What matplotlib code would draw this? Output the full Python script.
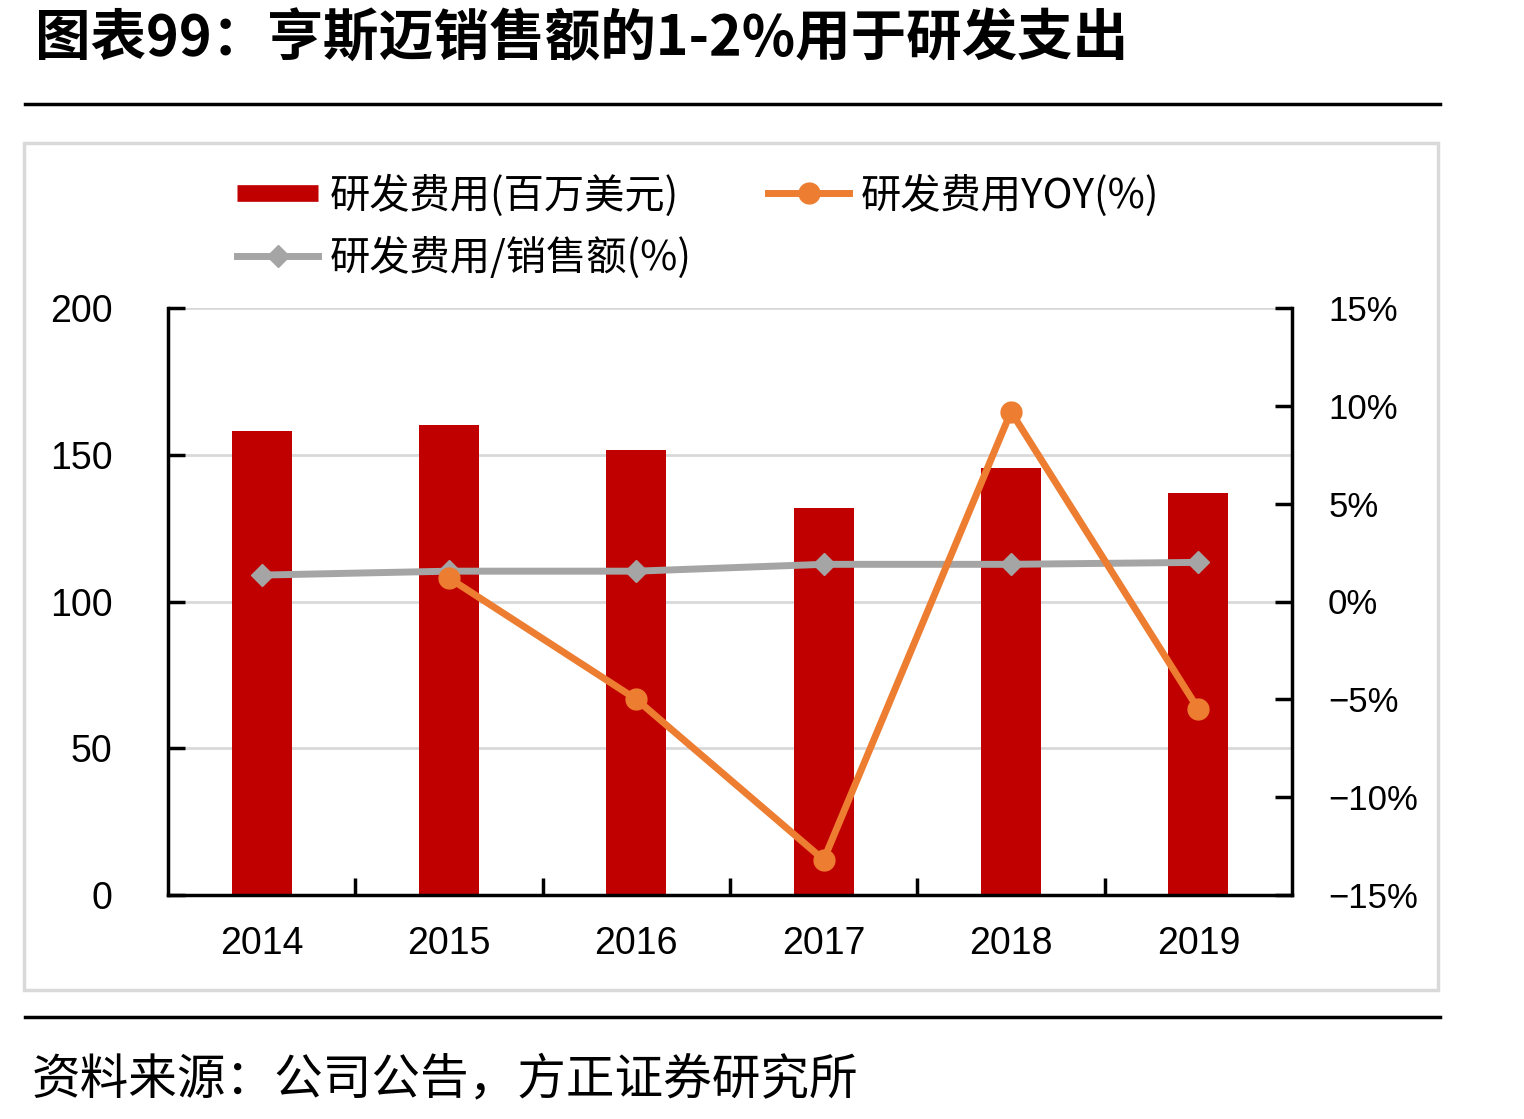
import matplotlib.pyplot as plt
from matplotlib.patches import Rectangle
from matplotlib.lines import Line2D
from matplotlib.ticker import FuncFormatter, FixedLocator

plt.rcParams['font.family'] = ['Liberation Sans', 'Noto Sans CJK SC', 'DejaVu Sans']
plt.rcParams['axes.unicode_minus'] = True

years = ['2014', '2015', '2016', '2017', '2018', '2019']
rd_spend = [158.1, 160.1, 151.6, 131.9, 145.5, 137.0]   # 百万美元
rd_yoy = [None, 1.2, -5.0, -13.2, 9.7, -5.5]            # %
rd_ratio = [1.35, 1.55, 1.55, 1.9, 1.9, 2.0]            # %

red = '#C00000'
orange = '#ED7D31'
grey = '#A5A5A5'
cjk = ['Noto Sans CJK SC', 'DejaVu Sans']

fig = plt.figure(figsize=(15.24, 11.19), dpi=100)

# title and separator lines
fig.text(35 / 1524, 1 - 40 / 1119, '图表99：亨斯迈销售额的1-2%用于研发支出', family=cjk,
         fontsize=40, fontweight='bold', va='center', ha='left')
fig.add_artist(Line2D([25 / 1524, 1440 / 1524], [1 - 104 / 1119] * 2, color='black', lw=2.5))
fig.add_artist(Line2D([25 / 1524, 1440 / 1524], [1 - 1017 / 1119] * 2, color='black', lw=2.5))
fig.add_artist(Rectangle((24 / 1524, 1 - 990 / 1119), 1414 / 1524, 847 / 1119,
                         fill=False, edgecolor='#D9D9D9', lw=2.5))
fig.text(32 / 1524, 1 - 1080 / 1119, '资料来源：公司公告，方正证券研究所', family=cjk,
         fontsize=35, va='center', ha='left')

ax = fig.add_axes([168 / 1524, 1 - 895 / 1119, 1124 / 1524, 587 / 1119])
x = list(range(len(years)))
ax.bar(x, rd_spend, width=0.32, color=red, zorder=2)
ax.set_xlim(-0.5, 5.5)
ax.set_ylim(0, 200)
ax.set_yticks([0, 50, 100, 150, 200])
ax.grid(axis='y', color='#D9D9D9', lw=2, zorder=0)
ax.set_xticks(x)
ax.set_xticklabels(years)
ax.xaxis.set_minor_locator(FixedLocator([i + 0.5 for i in range(5)]))
ax.tick_params(axis='x', which='major', length=0, pad=22, labelsize=27)
ax.tick_params(axis='x', which='minor', direction='in', length=12, width=2.5)
ax.tick_params(axis='y', direction='in', length=12, width=2.5, labelsize=27, pad=40)
for s in ['left', 'bottom']:
    ax.spines[s].set_linewidth(2.5)
for s in ['top', 'right']:
    ax.spines[s].set_visible(False)

ax2 = ax.twinx()
ax2.plot(x, rd_ratio, color=grey, lw=5, marker='D', markersize=11, zorder=3)
yx = [i for i, v in zip(x, rd_yoy) if v is not None]
yv = [v for v in rd_yoy if v is not None]
ax2.plot(yx, yv, color=orange, lw=5, marker='o', markersize=15, zorder=4)
ax2.set_ylim(-15, 15)
ax2.set_yticks([-15, -10, -5, 0, 5, 10, 15])
ax2.yaxis.set_major_formatter(FuncFormatter(lambda v, p: f'{v:.0f}%'.replace('-', '\u2212')))
ax2.tick_params(axis='y', direction='in', length=12, width=2.5, labelsize=25, pad=26)
ax2.spines['right'].set_linewidth(2.5)
for s in ['top', 'left', 'bottom']:
    ax2.spines[s].set_visible(False)

# legend: bar shown as a thick flat stroke, like the source
handles = [
    Line2D([], [], color=red, lw=12, solid_capstyle='butt'),
    Line2D([], [], color=grey, lw=5, marker='D', markersize=11),
    Line2D([], [], color=orange, lw=5, marker='o', markersize=15),
]
labels = ['研发费用(百万美元)', '研发费用/销售额(%)', '研发费用YOY(%)']
fig.legend(handles, labels, ncol=2, loc='upper left', bbox_to_anchor=(201 / 1524, 1 - 138 / 1119),
           frameon=False, prop={'family': cjk, 'size': 29}, handlelength=2.0,
           handletextpad=0.3, columnspacing=1.9, labelspacing=0.5)

fig.savefig('out.png', dpi=100)
